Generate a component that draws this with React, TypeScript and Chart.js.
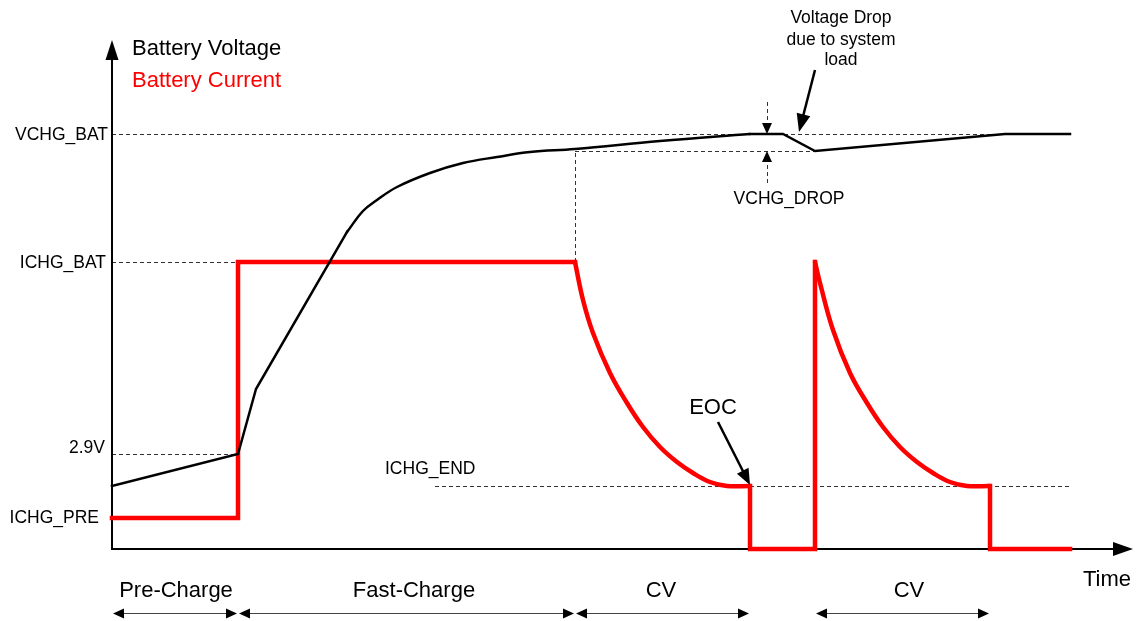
import React, { useEffect, useRef } from 'react';
import { Chart, registerables } from 'chart.js';
Chart.register(...registerables);

// Arbitrary schematic units: time (x) and level (y)
const X_MAX = 1021;
const Y_MAX = 509;

const LEVEL_VCHG_BAT = 415;
const LEVEL_VCHG_DROP = 398;
const LEVEL_ICHG_BAT = 287;
const LEVEL_2V9 = 95;
const LEVEL_ICHG_END = 63;

const T_PRE_END = 126;
const T_CC_END = 463;
const T_EOC = 638;
const T_RECHARGE = 703;
const T_END = 958;

// Battery voltage
const voltageLineT = [0, 126, 144, 235];
const voltageLineV = [63, 95, 160, 317];
const voltageCurveT = [235, 251, 265, 285, 318, 351, 385, 418, 463, 548, 638];
const voltageCurveV = [317, 338, 349, 362, 376, 386, 392, 397, 400, 408, 415];
const voltageTailT = [638, 671, 703, 893, 958];
const voltageTailV = [415, 415, 398, 415, 415];

// Battery current
const currentStep1T = [0, 126, 126, 463];
const currentStep1V = [31, 31, 287, 287];
const currentDecay1T = [463, 471, 481, 498, 515, 531, 548, 565, 581, 598, 615, 638];
const currentDecay1V = [287, 249, 216, 176, 146, 122, 102, 87, 76, 67, 63, 63];
const currentStep2T = [638, 638, 703, 703];
const currentStep2V = [63, 0, 0, 287];
const currentDecay2T = [703, 708, 721, 738, 755, 771, 788, 805, 821, 838, 855, 878];
const currentDecay2V = [287, 266, 219, 176, 146, 122, 102, 87, 76, 67, 63, 63];
const currentStep3T = [878, 878, 958];
const currentStep3V = [63, 0, 0];

// Phases
const phaseNames = ['Pre-Charge', 'Fast-Charge', 'CV', 'CV'];
const phaseStart = [0, 126, 463, 703];
const phaseEnd = [126, 463, 638, 878];
const phaseLabelT = [64, 302, 549, 797];

const levelLabels = ['VCHG_BAT', 'ICHG_BAT', '2.9V', 'ICHG_PRE'];
const levelLabelBaselines = [409, 281, 96, 26];
const levelLabelRight = [-4, -6, -7, -13];

const pts = (t: number[], v: number[]) => t.map((x, i) => ({ x, y: v[i] }));

const FONT = '"Liberation Sans", Arial, sans-serif';

function arrowHead(ctx: CanvasRenderingContext2D, fx: number, fy: number, tx: number, ty: number, len: number, hw: number) {
  const a = Math.atan2(ty - fy, tx - fx);
  const bx = tx - len * Math.cos(a);
  const by = ty - len * Math.sin(a);
  const px = -Math.sin(a) * hw;
  const py = Math.cos(a) * hw;
  ctx.beginPath();
  ctx.moveTo(tx, ty);
  ctx.lineTo(bx + px, by + py);
  ctx.lineTo(bx - px, by - py);
  ctx.closePath();
  ctx.fill();
}

const diagramPlugin = {
  id: 'diagram',
  beforeDatasetsDraw(chart: any) {
    const ctx: CanvasRenderingContext2D = chart.ctx;
    const xs = chart.scales.x;
    const ys = chart.scales.y;
    const X = (v: number) => xs.getPixelForValue(v);
    const Y = (v: number) => ys.getPixelForValue(v);
    ctx.save();
    // dashed reference lines
    ctx.strokeStyle = '#333';
    ctx.lineWidth = 1;
    ctx.setLineDash([4, 3]);
    const h = (t0: number, t1: number, v: number) => {
      ctx.beginPath();
      ctx.moveTo(X(t0), Math.round(Y(v)) + 0.5);
      ctx.lineTo(X(t1), Math.round(Y(v)) + 0.5);
      ctx.stroke();
    };
    const vline = (t: number, v0: number, v1: number) => {
      ctx.beginPath();
      ctx.moveTo(Math.round(X(t)) + 0.5, Y(v0));
      ctx.lineTo(Math.round(X(t)) + 0.5, Y(v1));
      ctx.stroke();
    };
    h(0, T_END, LEVEL_VCHG_BAT);
    h(0, T_PRE_END, LEVEL_ICHG_BAT);
    h(0, T_PRE_END, LEVEL_2V9);
    h(323, T_END, LEVEL_ICHG_END);
    h(T_CC_END, T_RECHARGE, LEVEL_VCHG_DROP);
    vline(T_CC_END, LEVEL_ICHG_BAT, 400);
    // small dashed pointer arrows for VCHG_DROP
    vline(655, 447, LEVEL_VCHG_BAT + 8);
    vline(655, 366, LEVEL_VCHG_DROP - 8);
    ctx.setLineDash([]);
    ctx.fillStyle = '#000';
    arrowHead(ctx, X(655), Y(447), X(655), Y(LEVEL_VCHG_BAT), 11, 5);
    arrowHead(ctx, X(655), Y(366), X(655), Y(LEVEL_VCHG_DROP), 11, 5);

    // axes
    ctx.strokeStyle = '#000';
    ctx.lineWidth = 2;
    ctx.beginPath();
    ctx.moveTo(X(0), Y(Y_MAX) + 15);
    ctx.lineTo(X(0), Y(0));
    ctx.lineTo(X(X_MAX) - 15, Y(0));
    ctx.stroke();
    arrowHead(ctx, X(0), Y(0), X(0), Y(Y_MAX), 20, 6.5);
    arrowHead(ctx, X(0), Y(0), X(X_MAX), Y(0), 20, 7);
    ctx.restore();
  },
  afterDraw(chart: any) {
    const ctx: CanvasRenderingContext2D = chart.ctx;
    const xs = chart.scales.x;
    const ys = chart.scales.y;
    const X = (v: number) => xs.getPixelForValue(v);
    const Y = (v: number) => ys.getPixelForValue(v);
    ctx.save();
    ctx.textBaseline = 'alphabetic';
    // legend-like titles
    ctx.font = `22px ${FONT}`;
    ctx.textAlign = 'left';
    ctx.fillStyle = '#000';
    ctx.fillText('Battery Voltage', X(20), Y(494));
    ctx.fillStyle = '#ff0000';
    ctx.fillText('Battery Current', X(20), Y(462));

    // level labels
    ctx.fillStyle = '#000';
    ctx.font = `17.5px ${FONT}`;
    ctx.textAlign = 'right';
    levelLabels.forEach((s, i) => {
      ctx.fillText(s, X(levelLabelRight[i]), Y(levelLabelBaselines[i]));
    });
    ctx.textAlign = 'left';
    ctx.fillText('ICHG_END', X(273), Y(75));

    // voltage drop annotation
    ctx.textAlign = 'center';
    ctx.fillText('Voltage Drop', X(729), Y(526));
    ctx.fillText('due to system', X(729), Y(504));
    ctx.fillText('load', X(729), Y(484));
    ctx.fillText('VCHG_DROP', X(677), Y(345));

    ctx.strokeStyle = '#000';
    ctx.fillStyle = '#000';
    ctx.lineWidth = 2.5;
    const arrow = (t0: number, v0: number, t1: number, v1: number, len: number, hw: number) => {
      const fx = X(t0), fy = Y(v0), tx = X(t1), ty = Y(v1);
      const a = Math.atan2(ty - fy, tx - fx);
      ctx.beginPath();
      ctx.moveTo(fx, fy);
      ctx.lineTo(tx - (len - 2) * Math.cos(a), ty - (len - 2) * Math.sin(a));
      ctx.stroke();
      arrowHead(ctx, fx, fy, tx, ty, len, hw);
    };
    arrow(703, 479, 687, 417, 18, 7);

    // EOC
    ctx.font = `22px ${FONT}`;
    ctx.fillText('EOC', X(601), Y(135));
    arrow(606, 127, T_EOC, LEVEL_ICHG_END + 1, 16, 6.5);

    // Time
    ctx.textAlign = 'left';
    ctx.fillText('Time', X(971), Y(-37));

    // phases
    ctx.textAlign = 'center';
    phaseNames.forEach((s, i) => {
      ctx.fillStyle = '#000';
      ctx.fillText(s, X(phaseLabelT[i]), Y(-48));
      const y = Math.round(Y(-64)) + 0.5;
      const x0 = X(phaseStart[i]) + 1;
      const x1 = X(phaseEnd[i]) - 1;
      ctx.strokeStyle = '#444';
      ctx.lineWidth = 1;
      ctx.beginPath();
      ctx.moveTo(x0 + 6, y);
      ctx.lineTo(x1 - 6, y);
      ctx.stroke();
      ctx.fillStyle = '#000';
      arrowHead(ctx, x1, y, x0, y, 11, 5);
      arrowHead(ctx, x0, y, x1, y, 11, 5);
    });
    ctx.restore();
  },
};

export default function App() {
  const ref = useRef<HTMLCanvasElement>(null);
  useEffect(() => {
    if (!ref.current) return;
    const red = '#ff0000';
    const mk = (data: any[], color: string, width: number, curve: boolean, order: number) => ({
      data,
      borderColor: color,
      borderWidth: width,
      pointRadius: 0,
      fill: false,
      tension: curve ? 0.4 : 0,
      cubicInterpolationMode: 'default',
      borderJoinStyle: curve ? 'round' : 'miter',
      borderCapStyle: curve ? 'round' : 'square',
      clip: false,
      order,
    });
    const chart = new Chart(ref.current, {
      type: 'line',
      data: {
        datasets: [
          mk(pts(voltageLineT, voltageLineV), '#000', 2.5, false, 0),
          mk(pts(voltageCurveT, voltageCurveV), '#000', 2.5, true, 0),
          mk(pts(voltageTailT, voltageTailV), '#000', 2.5, false, 0),
          mk(pts(currentStep1T, currentStep1V), red, 4.5, false, 1),
          mk(pts(currentDecay1T, currentDecay1V), red, 4.5, true, 1),
          mk(pts(currentStep2T, currentStep2V), red, 4.5, false, 1),
          mk(pts(currentDecay2T, currentDecay2V), red, 4.5, true, 1),
          mk(pts(currentStep3T, currentStep3V), red, 4.5, false, 1),
        ] as any,
      },
      options: {
        animation: false,
        responsive: false,
        layout: { padding: { left: 112, right: 4, top: 40, bottom: 72 } },
        plugins: { legend: { display: false }, tooltip: { enabled: false } },
        events: [],
        elements: { line: { capBezierPoints: true } },
        scales: {
          x: { type: 'linear', min: 0, max: X_MAX, display: false },
          y: { type: 'linear', min: 0, max: Y_MAX, display: false },
        },
      },
      plugins: [diagramPlugin],
    });
    return () => chart.destroy();
  }, []);
  return (
    <div style={{ position: 'absolute', left: 0, top: 0, width: 1137, height: 621, background: '#fff' }}>
      <canvas ref={ref} width={1137} height={621} />
    </div>
  );
}
